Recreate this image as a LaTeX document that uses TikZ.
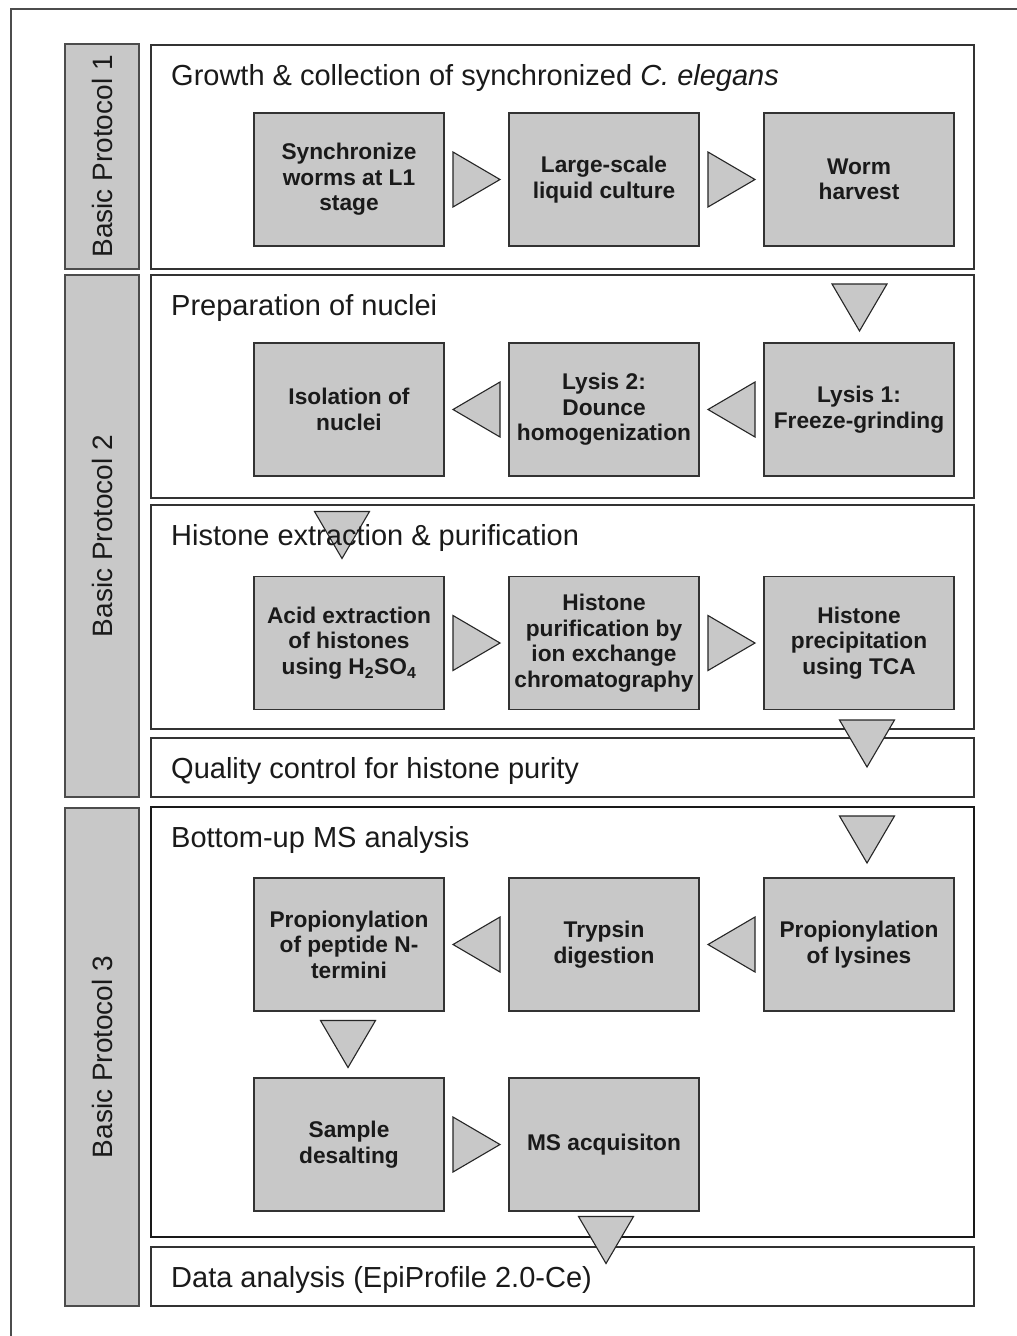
\documentclass[tikz,border=0pt]{standalone}
\usepackage{fontspec}
\setmainfont{Liberation Sans}
\usetikzlibrary{calc}
\definecolor{boxgray}{HTML}{C8C8C8}
\definecolor{edge}{HTML}{333333}
\definecolor{txt}{HTML}{1A1A1A}
\begin{document}
\begin{tikzpicture}[x=1pt,y=-1pt,
  frame/.style={draw=black!70, line width=1.2pt},
  panel/.style={draw=edge, line width=1.8pt, minimum width=823pt, inner sep=0pt},
  sidebar/.style={draw=black!70, fill=boxgray, line width=1.3pt, minimum width=74pt, inner sep=0pt},
  sidelabel/.style={rotate=90, font=\fontsize{28}{32}\selectfont, text=txt, inner sep=0pt},
  heading/.style={anchor=base west, font=\fontsize{29}{34}\selectfont, text=txt, inner sep=0pt},
  stepbox/.style={draw=edge, fill=boxgray, line width=1.4pt, minimum width=190pt, minimum height=133pt,
    inner sep=0pt, align=center, text=txt, font=\fontsize{22.7}{25.5}\selectfont\bfseries},
  tri/.style={fill=boxgray, draw=black!85, line width=1.1pt, line join=miter},
  pics/tright/.style={code={\draw[tri] (-23.5,-27.5) -- (23.5,0) -- (-23.5,27.5) -- cycle;}},
  pics/tleft/.style={code={\draw[tri] (23.5,-27.5) -- (-23.5,0) -- (23.5,27.5) -- cycle;}},
  pics/tdown/.style={code={\draw[tri] (-27.5,-23.5) -- (27.5,-23.5) -- (0,23.5) -- cycle;}},
]
\useasboundingbox (0,0) rectangle (1017,1336);
\fill[white] (0,0) rectangle (1017,1336);
% outer frame (cut off at right and bottom)
\draw[frame] (11,1336) -- (11,9) -- (1017,9);

% side bars
\node[sidebar, minimum height=225pt] (bp1) at (102,156.5) {};
\node[sidebar, minimum height=522pt] (bp2) at (102,536) {};
\node[sidebar, minimum height=498pt] (bp3) at (102,1057) {};
\node[sidelabel] (bp1l) at (bp1.center) {Basic Protocol 1};
\node[sidelabel] (bp2l) at (bp2.center) {Basic Protocol 2};
\node[sidelabel] (bp3l) at (bp3.center) {Basic Protocol 3};

% panels
\node[panel, minimum height=224pt] (p1) at (562.5,157) {};
\node[panel, minimum height=223pt] (p2) at (562.5,386.5) {};
\node[panel, minimum height=224pt] (p3) at (562.5,617) {};
\node[panel, minimum height=59pt] (qc) at (562.5,767.5) {};
\node[panel, minimum height=430pt, draw=black!90, line width=2pt] (p4) at (562.5,1022) {};
\node[panel, minimum height=59pt] (da) at (562.5,1276.5) {};

% step boxes
\node[stepbox] (s11) at (349,179.5) {Synchronize\\worms at L1\\stage};
\node[stepbox] (s12) at (604,179.5) {Large-scale\\liquid culture};
\node[stepbox] (s13) at (859,179.5) {Worm\\harvest};

\node[stepbox] (s21) at (349,409.5) {Isolation of\\nuclei};
\node[stepbox] (s22) at (604,409.5) {Lysis 2:\\Dounce\\homogenization};
\node[stepbox] (s23) at (859,409.5) {Lysis 1:\\Freeze-grinding};

\node[stepbox] (s31) at (349,643) {Acid extraction\\of histones\\using H\textsubscript{2}SO\textsubscript{4}};
\node[stepbox] (s32) at (604,643) {Histone\\purification by\\ion exchange\\chromatography};
\node[stepbox] (s33) at (859,643) {Histone\\precipitation\\using TCA};

\node[stepbox] (s41) at (349,944.5) {Propionylation\\of peptide N-\\termini};
\node[stepbox] (s42) at (604,944.5) {Trypsin\\digestion};
\node[stepbox] (s43) at (859,944.5) {Propionylation\\of lysines};

\node[stepbox] (s51) at (349,1144.5) {Sample\\desalting};
\node[stepbox] (s52) at (604,1144.5) {MS acquisiton};

% triangle connectors
\pic at ($(s11.east)!0.5!(s12.west)$) {tright};
\pic at ($(s12.east)!0.5!(s13.west)$) {tright};
\coordinate (d1) at (859.5,307.5);
\pic at (d1) {tdown};
\pic at ($(s22.east)!0.5!(s23.west)$) {tleft};
\pic at ($(s21.east)!0.5!(s22.west)$) {tleft};
\coordinate (d2) at (342,535);
\pic at (d2) {tdown};
\pic at ($(s31.east)!0.5!(s32.west)$) {tright};
\pic at ($(s32.east)!0.5!(s33.west)$) {tright};
\coordinate (d3) at (867,743.5);
\pic at (d3) {tdown};
\coordinate (d4) at (867,839.5);
\pic at (d4) {tdown};
\pic at ($(s42.east)!0.5!(s43.west)$) {tleft};
\pic at ($(s41.east)!0.5!(s42.west)$) {tleft};
\coordinate (d5) at (348,1044);
\pic at (d5) {tdown};
\pic at ($(s51.east)!0.5!(s52.west)$) {tright};
\coordinate (d6) at (606,1240);
\pic at (d6) {tdown};

% headings
\node[heading] (h1) at (171,85) {Growth \& collection of synchronized \textit{C. elegans}};
\node[heading] (h2) at (171,315) {Preparation of nuclei};
\node[heading] (h3) at (171,545) {Histone extraction \& purification};
\node[heading] (h4) at (171,778) {Quality control for histone purity};
\node[heading] (h5) at (171,847) {Bottom-up MS analysis};
\node[heading] (h6) at (171,1287) {Data analysis (EpiProfile 2.0-Ce)};
\end{tikzpicture}
\end{document}
